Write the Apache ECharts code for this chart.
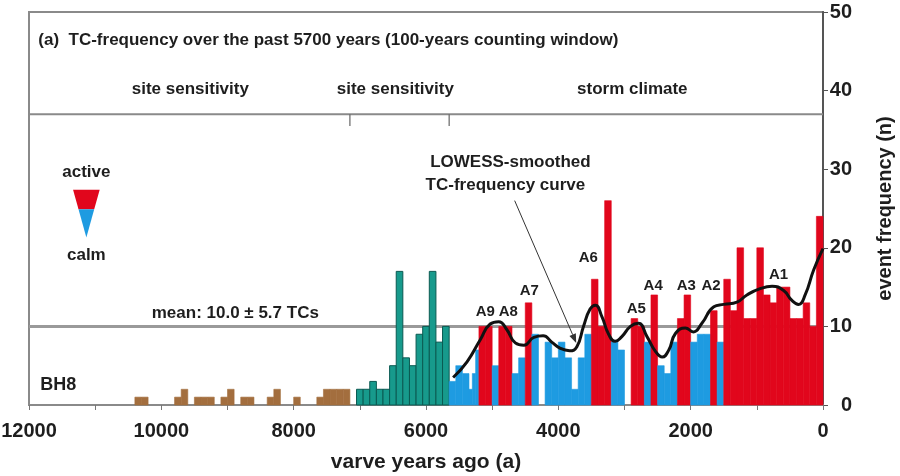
<!DOCTYPE html>
<html><head><meta charset="utf-8">
<script src="https://cdn.jsdelivr.net/npm/echarts@6/dist/echarts.min.js"></script>
<style>html,body{margin:0;padding:0;background:#fff}#c{width:900px;height:476px}</style>
</head><body><div id="c"></div>
<script>
// ---------- DATA ----------
// 100-year counting windows (years ago: older edge -> younger edge) and TC counts
const binFrom = [10400,10300, 9800,9700, 9500,9400,9300, 9100,9000, 8800,8700, 8400,8300, 8000,
  7650,7550,7450,7350,7250,
  7050,6950,6850,6750,6650,6550,6450,6350,6250,6150,6050,5950,5850,5750,
  5650,5550,5450,5350,5300,5250,5200,5100,5000,4900,4800,4700,4600,4500,4400,
  4200,4100,4000,3900,3800,3700,3600,3500,3400,3300,3200,3100,
  2900,2800,2700,2600,2500,2400,2300,2200,2100,2000,1900,1800,1700,1600,
  1500,1400,1300,1200,1100,1000,900,800,700,600,500,400,300,200,100];
const binTo = [10300,10200, 9700,9600, 9400,9300,9200, 9000,8900, 8700,8600, 8300,8200, 7900,
  7550,7450,7350,7250,7150,
  6950,6850,6750,6650,6550,6450,6350,6250,6150,6050,5950,5850,5750,5650,
  5550,5450,5350,5300,5250,5200,5100,5000,4900,4800,4700,4600,4500,4400,4300,
  4100,4000,3900,3800,3700,3600,3500,3400,3300,3200,3100,3000,
  2800,2700,2600,2500,2400,2300,2200,2100,2000,1900,1800,1700,1600,1500,
  1400,1300,1200,1100,1000,900,800,700,600,500,400,300,200,100,0];
const counts = [1,1, 1,2, 1,1,1, 1,2, 1,1, 1,2, 1,
  1,2,2,2,2,
  2,2,3,2,2,5,17,6,5,9,10,17,8,10,
  3,5,4,2,4,7,10,10,5,10,10,4,6,13,9,
  8,6,8,6,2,6,9,16,10,26,8,7,
  11,10,8,14,5,4,8,11,14,8,9,9,12,8,
  16,12,20,11,11,20,14,13,15,15,11,11,13,10,24];
// LOWESS-smoothed TC-frequency curve
const lowessYears  = [5590,5380,5180,5030,4900,4780,4650,4520,4370,4230,4100,3970,3830,3720,3620,3520,3440,3340,3240,3140,3040,2910,2790,2660,2530,2430,2330,2230,2080,1960,1830,1650,1500,1300,1150,950,770,600,470,370,270,140,0];
const lowessValues = [3.5,5.5,8.3,10.3,10.6,9.6,7.9,7.6,8.6,8.8,8.0,7.2,6.9,7.4,10.0,12.2,12.7,11.2,9.0,8.1,8.7,10.0,10.4,8.7,6.8,6.1,7.0,9.1,9.8,9.3,10.4,12.5,12.8,13.1,14.0,14.8,15.1,14.6,13.3,12.8,14.0,17.2,19.9];
const meanTC = 10.0, sdTC = 5.7;
const sectionBounds = [7150, 5650];           // site sensitivity | site sensitivity | storm climate
const headerLevel = 37;
const activeLabels = ['A9','A8','A7','A6','A5','A4','A3','A2','A1'];
const xTickStep = 2000, yTickStep = 10;

// ---------- CHART ----------
const FONT = '"Liberation Sans", Arial, sans-serif';
const C = {brown:'#a36e3e', brownEdge:'#6e4622', teal:'#179a8c', tealEdge:'#0b5a52',
           blue:'#1e9be1', red:'#e1061c', grey:'#8c8c8c', text:'#1e1e1e'};
const chart = echarts.init(document.getElementById('c'));
const bins = binFrom.map((f, i) => [f, binTo[i], counts[i]]);

const aPos = [[5104,11.8],[4756,11.8],[4439,14.5],[3547,18.7],[2821,12.2],[2567,15.2],[2066,15.2],[1691,15.2],[671,16.6]];
const notes = [
  {x:11859, y:46.4, t:'(a)  TC-frequency over the past 5700 years (100-years counting window)', s:17, a:'left'},
  {x:9562, y:40.2, t:'site sensitivity', s:17},
  {x:6464, y:40.2, t:'site sensitivity', s:17},
  {x:2882, y:40.2, t:'storm climate', s:17},
  {x:11133, y:29.6, t:'active', s:17},
  {x:11133, y:19.1, t:'calm', s:17},
  {x:11556, y:2.5, t:'BH8', s:18},
  {x:8882, y:11.7, t:'mean: ' + meanTC.toFixed(1) + ' \u00b1 ' + sdTC.toFixed(1) + ' TCs', s:17},
  {x:4724, y:30.9, t:'LOWESS-smoothed', s:17},
  {x:4800, y:28.0, t:'TC-frequency curve', s:17}
].concat(activeLabels.map((l, i) => ({x:aPos[i][0], y:aPos[i][1], t:l, s:15})));

const option = {
  animation: false,
  grid: {left: 29, right: 77, top: 12, bottom: 71, outerBoundsMode: 'none', containLabel: false,
         show: true, borderColor: '#8a8a8a', borderWidth: 2},
  xAxis: {
    type: 'value', inverse: true, min: 0, max: 12000, interval: xTickStep,
    name: 'varve years ago (a)', nameLocation: 'middle', nameGap: 47,
    nameTextStyle: {fontFamily: FONT, fontWeight: 'bold', fontSize: 21, color: C.text},
    axisLine: {show: true, lineStyle: {color: '#8a8a8a', width: 2}},
    axisTick: {show: true, length: 5, lineStyle: {color: '#777', width: 1}},
    minorTick: {show: true, splitNumber: 2, length: 5, lineStyle: {color: '#777', width: 1}},
    axisLabel: {fontFamily: FONT, fontWeight: 'bold', fontSize: 20, color: C.text, margin: 16,
                formatter: v => String(v)},
    splitLine: {show: false}
  },
  yAxis: {
    type: 'value', position: 'right', min: 0, max: 50, interval: yTickStep,
    name: 'event frequency (n)', nameLocation: 'middle', nameGap: 52, nameRotate: 90,
    nameTextStyle: {fontFamily: FONT, fontWeight: 'bold', fontSize: 20, color: C.text},
    axisLine: {show: true, lineStyle: {color: '#555', width: 2}},
    axisTick: {show: true, length: 5, lineStyle: {color: '#555', width: 1}},
    axisLabel: {fontFamily: FONT, fontWeight: 'bold', fontSize: 20, color: C.text, margin: 29, align: 'right'},
    splitLine: {show: false}
  },
  series: [
    { // reference lines: mean and header separator
      type: 'custom', z: 1, silent: true,
      data: [[0, meanTC], [0, headerLevel]],
      renderItem: (p, api) => {
        const v = api.value(1), a = api.coord([12000, v]), b = api.coord([0, v]);
        return {type: 'line', shape: {x1: a[0], y1: a[1], x2: b[0], y2: b[1]},
          style: {stroke: p.dataIndex === 0 ? '#9a9a9a' : '#8a8a8a', lineWidth: p.dataIndex === 0 ? 3 : 2}};
      }
    },
    { // section boundary marks
      type: 'custom', z: 1, silent: true,
      data: sectionBounds.map(b => [b, headerLevel]),
      renderItem: (p, api) => {
        const a = api.coord([api.value(0), api.value(1)]), b = api.coord([api.value(0), api.value(1) - 1.5]);
        return {type: 'line', shape: {x1: a[0], y1: a[1], x2: b[0], y2: b[1]}, style: {stroke: '#666', lineWidth: 1.2}};
      }
    },
    { // TC-frequency bars
      type: 'custom', z: 2, silent: true,
      encode: {x: [0, 1], y: 2},
      data: bins,
      renderItem: (p, api) => {
        const from = api.value(0), to = api.value(1), n = api.value(2);
        const p0 = api.coord([from, n]), p1 = api.coord([to, 0]);
        let fill, stroke, lw = 0.6;
        if (from > sectionBounds[0]) { fill = C.brown; stroke = C.brown; }
        else if (from > sectionBounds[1]) { fill = C.teal; stroke = C.tealEdge; lw = 1; }
        else if (n >= meanTC) { fill = C.red; stroke = C.red; }
        else { fill = C.blue; stroke = C.blue; }
        return {type: 'rect',
          shape: {x: Math.min(p0[0], p1[0]), y: p0[1], width: Math.abs(p1[0] - p0[0]), height: p1[1] - p0[1]},
          style: {fill: fill, stroke: stroke, lineWidth: lw}};
      }
    },
    { // LOWESS curve
      type: 'line', z: 3, silent: true, smooth: 0.5, symbol: 'none',
      data: lowessYears.map((y, i) => [y, lowessValues[i]]),
      lineStyle: {color: '#111', width: 3}
    },
    { // arrow to the curve
      type: 'custom', z: 4, silent: true,
      data: [[4660, 26.0, 3730, 7.9]],
      renderItem: (p, api) => {
        const a = api.coord([api.value(0), api.value(1)]), b = api.coord([api.value(2), api.value(3)]);
        const ang = Math.atan2(b[1] - a[1], b[0] - a[0]), L = 9, W = 3.5;
        const bx = b[0] - L * Math.cos(ang), by = b[1] - L * Math.sin(ang);
        return {type: 'group', children: [
          {type: 'line', shape: {x1: a[0], y1: a[1], x2: bx, y2: by}, style: {stroke: '#333', lineWidth: 1}},
          {type: 'polygon', shape: {points: [[b[0], b[1]],
            [bx + W * Math.sin(ang), by - W * Math.cos(ang)], [bx - W * Math.sin(ang), by + W * Math.cos(ang)]]},
            style: {fill: '#333'}}
        ]};
      }
    },
    { // active / calm triangle
      type: 'custom', z: 4, silent: true,
      data: [[11334, 27.4, 10932, 24.9, 21.3]],
      renderItem: (p, api) => {
        const tl = api.coord([api.value(0), api.value(1)]), tr = api.coord([api.value(2), api.value(1)]);
        const midY = api.coord([0, api.value(3)])[1], tipY = api.coord([0, api.value(4)])[1];
        const cx = (tl[0] + tr[0]) / 2, hw = (tr[0] - tl[0]) / 2;
        const f = (midY - tl[1]) / (tipY - tl[1]), mw = hw * (1 - f);
        return {type: 'group', children: [
          {type: 'polygon', shape: {points: [[tl[0], tl[1]], [tr[0], tr[1]], [cx + mw, midY], [cx - mw, midY]]}, style: {fill: C.red}},
          {type: 'polygon', shape: {points: [[cx - mw, midY], [cx + mw, midY], [cx, tipY]]}, style: {fill: C.blue}}
        ]};
      }
    },
    { // text annotations
      type: 'custom', z: 5, silent: true,
      data: notes.map(n => [n.x, n.y]),
      renderItem: (p, api) => {
        const n = notes[p.dataIndex], pt = api.coord([api.value(0), api.value(1)]);
        return {type: 'text', x: pt[0], y: pt[1],
          style: {text: n.t, fill: C.text, font: 'bold ' + n.s + 'px ' + FONT,
            textAlign: n.a || 'center', textVerticalAlign: 'middle'}};
      }
    }
  ]
};
chart.setOption(option);
</script></body></html>
